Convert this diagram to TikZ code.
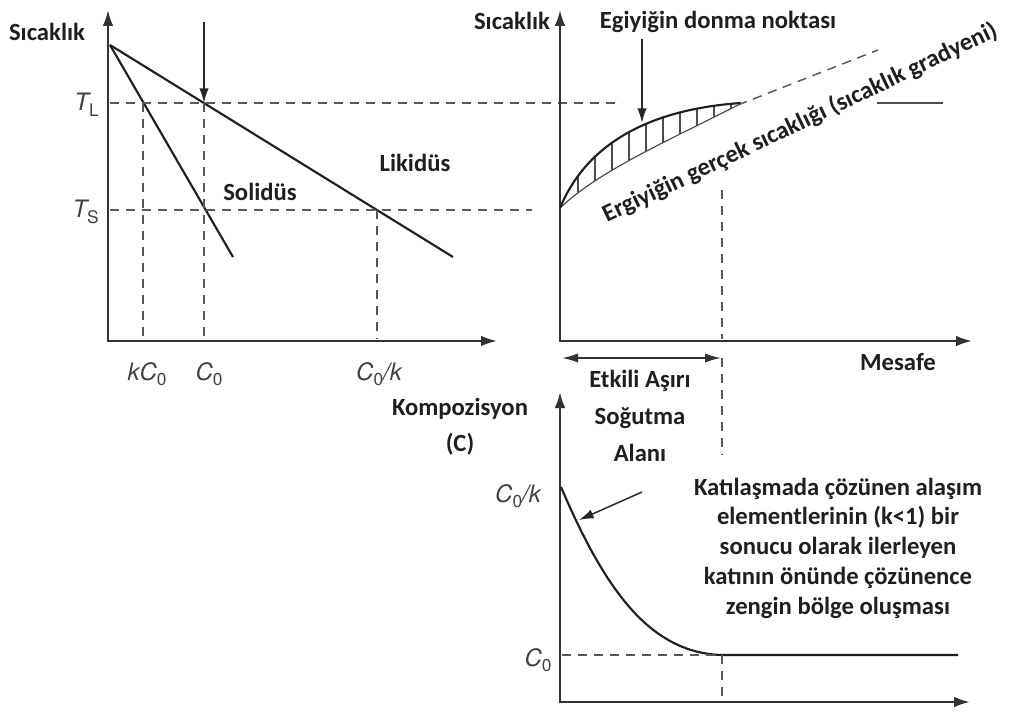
\documentclass[tikz,border=0pt]{standalone}
\usepackage{fontspec}
\setmainfont{Carlito}
\newfontfamily\hv{TeX Gyre Heros}
\usetikzlibrary{arrows.meta}
\newcommand{\msub}[1]{\raisebox{-0.45ex}{\fontsize{13}{13}\selectfont #1}}
\begin{document}
\begin{tikzpicture}[x=0.75pt,y=-0.75pt,
  axes/.style={line width=1.7pt, draw=black!80, {Latex[length=12pt,width=8pt]}-{Latex[length=12pt,width=8pt]}},
  crv/.style={line width=1.6pt, draw=black!88},
  dsh/.style={line width=1.3pt, draw=black!65, dash pattern=on 7pt off 5pt},
  pointer/.style={line width=1.1pt, draw=black!85, -{Latex[length=11pt,width=7pt]}},
  lbl/.style={font=\bfseries\fontsize{18.5}{22}\selectfont, text=black!88, inner sep=0pt, align=center},
  mlab/.style={font=\hv\itshape\fontsize{18}{20}\selectfont, text=black!75, inner sep=0pt},
]
\useasboundingbox (0,0) rectangle (1020,716);

% ---------------- left chart ----------------
\coordinate (Y1) at (108,10);
\coordinate (O1) at (108,341);
\coordinate (X1) at (497,341);
\draw[axes] (Y1) -- (O1) -- (X1);

\coordinate (P) at (110,45);
\coordinate (LqE) at (453,257);
\coordinate (SoE) at (233,257);
\draw[crv] (P) -- (LqE);
\draw[crv] (P) -- (SoE);

\coordinate (TLa) at (110,103);
\coordinate (TLb) at (622,103);
\coordinate (TSa) at (110,210);
\coordinate (TSb) at (532,210);
\draw[dsh] (TLa) -- (TLb);
\draw[dsh] (TSa) -- (TSb);

\coordinate (kTop) at (143,103);  \coordinate (kBot) at (143,339);
\coordinate (cTop) at (204,103);  \coordinate (cBot) at (204,339);
\coordinate (ckTop) at (377,210); \coordinate (ckBot) at (377,339);
\draw[dsh] (kTop) -- (kBot);
\draw[dsh] (cTop) -- (cBot);
\draw[dsh] (ckTop) -- (ckBot);

\coordinate (arrA) at (204,22);
\draw[pointer] (arrA) -- (cTop);

\node[lbl] (sic1) at (47,32) {Sıcaklık};
\node[mlab, anchor=east] (tl) at (99,105) {T\msub{\upshape L}};
\node[mlab, anchor=east] (ts) at (99,212) {T\msub{\upshape S}};
\node[mlab] (kc0) at (147,374) {kC\msub{\upshape 0}};
\node[mlab] (c0) at (209,374) {C\msub{\upshape 0}};
\node[mlab] (c0k) at (379,374) {C\msub{\upshape 0}/k};
\node[lbl] (sol) at (260,192) {Solidüs};
\node[lbl] (liq) at (415,163) {Likidüs};

% ---------------- right top chart ----------------
\coordinate (Y2) at (560,10);
\coordinate (O2) at (560,341);
\coordinate (X2) at (972,341);
\draw[axes] (Y2) -- (O2) -- (X2);

\coordinate (S0) at (560,208);
\coordinate (U1) at (741,103);
\coordinate (L1) at (738,105);
\coordinate (G1) at (878,50);

\begin{scope}
  \clip (S0) .. controls (584,150) and (640,110) .. (U1) -- (L1) .. controls (670,140) and (600,170) .. (S0) -- cycle;
  \foreach \x in {578,595,...,740} \draw[line width=0.9pt, draw=black!70] (\x,90) -- (\x,215);
\end{scope}
\draw[line width=0.9pt, draw=black!70] (S0) .. controls (600,170) and (670,140) .. (L1);
\draw[crv] (S0) .. controls (584,150) and (640,110) .. (U1);
\draw[dsh, line width=1.1pt] (L1) -- (G1);

\coordinate (frzA) at (642,39);
\coordinate (frzB) at (642,123);
\draw[pointer] (frzA) -- (frzB);

\coordinate (sh1) at (877,103);
\coordinate (sh2) at (943,103);
\draw[crv, draw=black!70] (sh1) -- (sh2);

\coordinate (vd1) at (722,190);
\coordinate (vd2) at (722,339);
\draw[dsh] (vd1) -- (vd2);

\coordinate (da1) at (562,358);
\coordinate (da2) at (721,358);
\draw[line width=1.4pt, draw=black!80, {Latex[length=12pt,width=7pt]}-{Latex[length=12pt,width=7pt]}] (da1) -- (da2);
\coordinate (vd3) at (722,358);
\coordinate (vd4) at (722,455);
\draw[dsh] (vd3) -- (vd4);

\node[lbl] (sic2) at (512,21) {Sıcaklık};
\node[lbl] (frz) at (718,22) {Egiyiğin donma noktası};
\node[lbl, rotate=25.5] (grad) at (800,123) {Ergiyiğin gerçek sıcaklığı (sıcaklık gradyeni)};
\node[lbl] (mes) at (898,362) {Mesafe};
\node[lbl, font=\bfseries\fontsize{18.5}{28}\selectfont] (eas) at (640,416) {Etkili Aşırı\\Soğutma\\Alanı};

% ---------------- bottom chart ----------------
\coordinate (Y3) at (560,392);
\coordinate (O3) at (560,702);
\coordinate (X3) at (970,702);
\draw[axes] (Y3) -- (O3) -- (X3);

\coordinate (B0) at (561,487);
\coordinate (B1) at (722,655);
\coordinate (B2) at (958,655);
\draw[crv] (B0) .. controls (605,590) and (650,653) .. (B1) -- (B2);

\coordinate (c0a) at (562,655);
\draw[dsh] (c0a) -- (B1);
\coordinate (vd5) at (722,655);
\coordinate (vd6) at (722,700);
\draw[dsh] (vd5) -- (vd6);

\coordinate (pa) at (642,492);
\coordinate (pb) at (579,520);
\draw[pointer] (pa) -- (pb);

\node[lbl, font=\bfseries\fontsize{18.5}{27}\selectfont] (komp) at (460,427) {Kompozisyon\\(C)};
\node[mlab] (c0k2) at (518,496) {C\msub{\upshape 0}/k};
\node[mlab] (c02) at (538,660) {C\msub{\upshape 0}};
\node[lbl, font=\bfseries\fontsize{18.5}{22.3}\selectfont] (txt) at (838,548) {Katılaşmada çözünen alaşım\\elementlerinin (k<1) bir\\sonucu olarak ilerleyen\\katının önünde çözünence\\zengin bölge oluşması};
\end{tikzpicture}
\end{document}
